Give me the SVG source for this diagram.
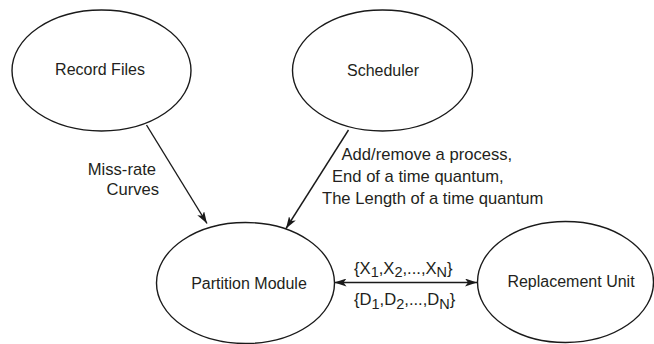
<svg xmlns="http://www.w3.org/2000/svg" width="654" height="344" viewBox="0 0 654 344">
<defs>
<marker id="ah" viewBox="0 0 12 8" refX="12" refY="4" markerWidth="12" markerHeight="8" markerUnits="userSpaceOnUse" orient="auto-start-reverse">
<path d="M0,0 L12,4 L0,8 L3,4 Z" fill="#1a1a1a"/>
</marker>
<style>
.n{fill:#fff;stroke:#1a1a1a;stroke-width:1.4}
.t{font-family:"Liberation Sans",Arial,sans-serif;font-size:16px;fill:#231f20}
.l{font-size:16.6px}
.c{stroke:#1a1a1a;stroke-width:1.4;fill:none}
.s{font-size:14.5px}
</style>
</defs>
<rect width="654" height="344" fill="#fff"/>
<g id="record-files">
<ellipse class="n" cx="101.5" cy="70.5" rx="89.5" ry="60.5"/>
<text class="t" x="100" y="75" text-anchor="middle">Record Files</text>
</g>
<g id="scheduler">
<ellipse class="n" cx="382.5" cy="70.5" rx="90" ry="60.5"/>
<text class="t" x="383" y="76" text-anchor="middle">Scheduler</text>
</g>
<g id="partition-module">
<ellipse class="n" cx="245.5" cy="283" rx="89" ry="60.5"/>
<text class="t" x="249" y="288.5" text-anchor="middle">Partition Module</text>
</g>
<g id="replacement-unit">
<ellipse class="n" cx="565.5" cy="282" rx="88" ry="60.5"/>
<text class="t" x="571" y="287" text-anchor="middle">Replacement Unit</text>
</g>
<g id="connectors">
<line class="c" x1="146.5" y1="125" x2="207" y2="223.5" marker-end="url(#ah)"/>
<line class="c" x1="348.5" y1="130" x2="286" y2="228.5" marker-end="url(#ah)"/>
<line class="c" x1="334.5" y1="282.5" x2="477" y2="282.5" marker-start="url(#ah)" marker-end="url(#ah)"/>
</g>
<g id="labels">
<text class="t l" x="156" y="175" text-anchor="end">Miss-rate</text>
<text class="t l" x="159" y="194.5" text-anchor="end">Curves</text>
<text class="t l" x="341.5" y="159.5">Add/remove a process,</text>
<text class="t l" x="332" y="181.5">End of a time quantum,</text>
<text class="t l" x="322" y="203.5">The Length of a time quantum</text>
<text class="t l" x="354" y="273.5">{X<tspan class="s" dy="3.5">1</tspan><tspan dy="-3.5">,X</tspan><tspan class="s" dy="3.5">2</tspan><tspan dy="-3.5">,...,X</tspan><tspan class="s" dy="3.5">N</tspan><tspan dy="-3.5">}</tspan></text>
<text class="t l" x="354" y="305">{D<tspan class="s" dy="3.5">1</tspan><tspan dy="-3.5">,D</tspan><tspan class="s" dy="3.5">2</tspan><tspan dy="-3.5">,...,D</tspan><tspan class="s" dy="3.5">N</tspan><tspan dy="-3.5">}</tspan></text>
</g>
</svg>
